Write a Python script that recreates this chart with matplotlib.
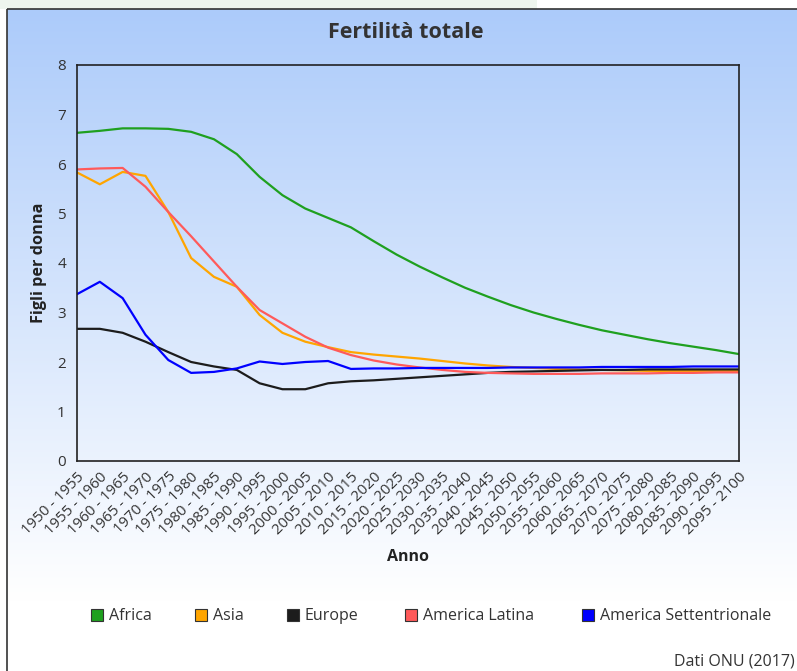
import matplotlib
matplotlib.use("Agg")
import matplotlib.pyplot as plt
import numpy as np
from matplotlib.patches import Rectangle

plt.rcParams['font.family'] = ['Open Sans', 'DejaVu Sans']

periods = [f"{y} - {y+5}" for y in range(1950, 2100, 5)]

africa = [6.63, 6.67, 6.72, 6.72, 6.71, 6.65, 6.50, 6.20, 5.74, 5.37, 5.10, 4.91, 4.72, 4.44, 4.17, 3.93,
          3.71, 3.50, 3.32, 3.15, 3.00, 2.87, 2.75, 2.64, 2.55, 2.46, 2.38, 2.31, 2.24, 2.16]
asia = [5.83, 5.59, 5.84, 5.76, 5.03, 4.10, 3.72, 3.52, 2.95, 2.59, 2.41, 2.30, 2.20, 2.15, 2.11, 2.07,
        2.02, 1.97, 1.93, 1.90, 1.88, 1.86, 1.85, 1.84, 1.83, 1.82, 1.82, 1.82, 1.82, 1.82]
europe = [2.67, 2.67, 2.59, 2.41, 2.20, 2.00, 1.91, 1.84, 1.57, 1.45, 1.45, 1.57, 1.61, 1.63, 1.66, 1.69,
          1.72, 1.75, 1.78, 1.80, 1.81, 1.82, 1.83, 1.84, 1.84, 1.85, 1.85, 1.85, 1.85, 1.85]
latam = [5.89, 5.91, 5.92, 5.54, 5.03, 4.54, 4.03, 3.52, 3.05, 2.78, 2.51, 2.29, 2.14, 2.03, 1.95, 1.89,
         1.84, 1.80, 1.78, 1.77, 1.76, 1.76, 1.76, 1.77, 1.77, 1.77, 1.78, 1.78, 1.79, 1.79]
namerica = [3.37, 3.62, 3.29, 2.55, 2.04, 1.78, 1.80, 1.87, 2.01, 1.96, 2.00, 2.02, 1.86, 1.87, 1.87, 1.88,
            1.88, 1.88, 1.88, 1.89, 1.89, 1.89, 1.89, 1.90, 1.90, 1.90, 1.90, 1.91, 1.91, 1.91]

series = [("Africa", africa, "#1fa01f"), ("Asia", asia, "#ffa500"), ("Europe", europe, "#1c1c1c"),
          ("America Latina", latam, "#ff5a5a"), ("America Settentrionale", namerica, "#0000ff")]

W, H = 797, 671
fig = plt.figure(figsize=(W/100, H/100), dpi=100)

# background
bg = fig.add_axes([0, 0, 1, 1], zorder=0)
bg.set_xlim(0, W); bg.set_ylim(H, 0); bg.axis('off')
top = np.array([172, 203, 250]) / 255.0
n = 400
grad = np.ones((n, 1, 3))
for i in range(n):
    y = 9 + (H - 9) * i / (n - 1)
    t = min(max((y - 9) / (600 - 9), 0), 1)
    grad[i, 0, :] = top * (1 - t) + np.array([1, 1, 1]) * t
bg.imshow(grad, extent=[7, W + 5, H, 9], aspect='auto', zorder=0)
bg.add_patch(Rectangle((0, 0), 537, 9, facecolor="#eef5ee", edgecolor='none', zorder=1))
bg.add_patch(Rectangle((7, 9), W + 10, H, facecolor='none', edgecolor="#333333", lw=1.2, zorder=2))
bg.text(406, 32, "Fertilità totale", ha='center', va='center', fontsize=15.5, fontweight='bold', color="#333333")
bg.text(408, 557, "Anno", ha='center', va='center', fontsize=11.5, fontweight='bold', color="#222222")
bg.text(39, 263, "Figli per donna", ha='center', va='center', rotation=90, fontsize=11.7, fontweight='bold', color="#222222")
bg.text(795, 661, "Dati ONU (2017)", ha='right', va='center', fontsize=11.5, color="#333333")

# legend
leg_x = [91, 195, 287, 405, 582]
for (name, _, col), lx in zip(series, leg_x):
    bg.add_patch(Rectangle((lx, 609), 12, 12, facecolor=col, edgecolor="#333333", lw=0.8, zorder=3))
    bg.text(lx + 18, 616, name, ha='left', va='center', fontsize=11.5, color="#333333")

# plot
L, R, T, B = 77, 739, 65, 461
ax = fig.add_axes([L / W, (H - B) / H, (R - L) / W, (B - T) / H], zorder=2)
ax.patch.set_alpha(0)
x = np.arange(len(periods))
for name, vals, col in series:
    ax.plot(x, vals, color=col, lw=1.6, solid_joinstyle='round')
ax.set_xlim(0, len(periods) - 1)
ax.set_ylim(0, 8)
ax.set_yticks(range(0, 9))
ax.set_xticks(x)
ax.set_xticklabels(periods, rotation=45, ha='right', va='top', rotation_mode='anchor', fontsize=10.8, color="#333333")
ax.tick_params(axis='both', length=0)
ax.tick_params(axis='y', labelsize=11, labelcolor="#333333", pad=8)
ax.tick_params(axis='x', pad=6)
for s in ax.spines.values():
    s.set_color("#222222"); s.set_linewidth(1.2)

fig.savefig("out.png", dpi=100)
